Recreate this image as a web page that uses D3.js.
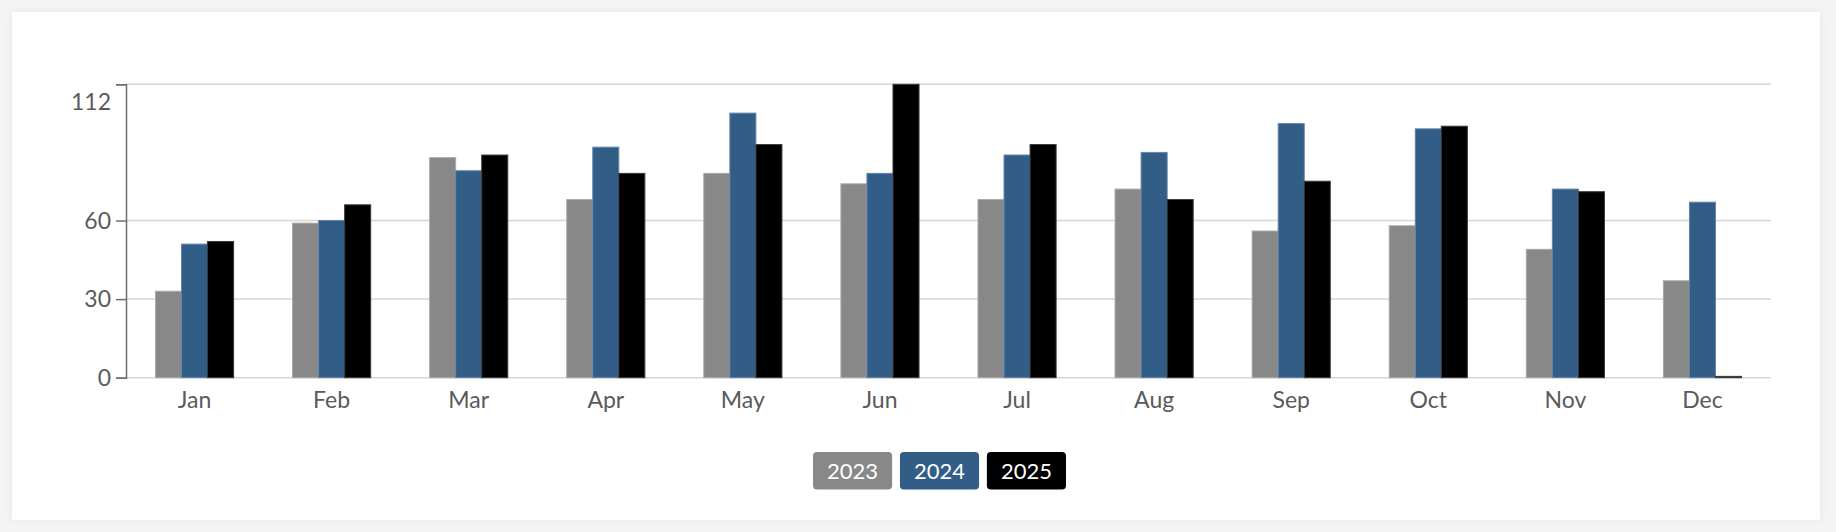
<!DOCTYPE html>
<html>
<head>
<meta charset="utf-8">
<script src="https://cdn.jsdelivr.net/npm/d3@7"></script>
<style>
  html, body { margin: 0; padding: 0; background: #f4f4f4; }
  svg { display: block; font-family: "Lato", "Open Sans", sans-serif; }
</style>
</head>
<body>
<div id="chart"></div>
<script>
// months on the x axis
var months = ["Jan", "Feb", "Mar", "Apr", "May", "Jun", "Jul", "Aug", "Sep", "Oct", "Nov", "Dec"];
var years = ["2023", "2024", "2025"];

// values per year
var values2023 = [33, 59, 84, 68, 78, 74, 68, 72, 56, 58, 49, 37];
var values2024 = [51, 60, 79, 88, 101, 78, 85, 86, 97, 95, 72, 67];
var values2025 = [52, 66, 85, 78, 89, 112, 89, 68, 75, 96, 71, 0.5];

var yTicks = [0, 30, 60, 112];
var yMax = 112;

var colors = { "2023": "#888888", "2024": "#325d87", "2025": "#000000" };
var strokes = { "2023": "#a9a9a9", "2024": "#6485a8", "2025": "#3a3a3a" };

var W = 1836, H = 532;
var margin = { top: 84.3, right: 65, bottom: 154.3, left: 126 };
var fontFam = "Lato, 'Open Sans', sans-serif";

var svg = d3.select("#chart").append("svg")
    .attr("width", W)
    .attr("height", H);

// card with soft shadow
var defs = svg.append("defs");
var f = defs.append("filter").attr("id", "shadow")
    .attr("x", "-5%").attr("y", "-5%").attr("width", "110%").attr("height", "110%");
f.append("feDropShadow").attr("dx", 0).attr("dy", 0)
    .attr("stdDeviation", 4).attr("flood-color", "#000").attr("flood-opacity", 0.06);

svg.append("rect")
    .attr("x", 12).attr("y", 12)
    .attr("width", 1808).attr("height", 508)
    .attr("fill", "#fff")
    .attr("filter", "url(#shadow)");

var x0 = d3.scaleBand()
    .domain(months)
    .range([margin.left, W - margin.right])
    .paddingInner(0.43)
    .paddingOuter(0.215);

var x1 = d3.scaleBand()
    .domain(years)
    .range([0, x0.bandwidth()]);

var y = d3.scaleLinear()
    .domain([0, yMax])
    .range([H - margin.bottom, margin.top]);

// gridlines
svg.append("g")
    .selectAll("line")
    .data(yTicks)
    .enter()
    .append("line")
    .attr("x1", margin.left)
    .attr("x2", W - margin.right)
    .attr("y1", d => y(d))
    .attr("y2", d => y(d))
    .attr("stroke", "#d6d6d6")
    .attr("stroke-width", 1.5);

// bars
var table = months.map(function (m, i) {
    return { month: m, vals: [
        { year: "2023", v: values2023[i] },
        { year: "2024", v: values2024[i] },
        { year: "2025", v: values2025[i] }
    ] };
});

svg.append("g")
    .selectAll("g")
    .data(table)
    .enter()
    .append("g")
    .attr("transform", d => "translate(" + x0(d.month) + ",0)")
    .selectAll("rect")
    .data(d => d.vals)
    .enter()
    .append("rect")
    .attr("x", d => x1(d.year))
    .attr("width", x1.bandwidth())
    .attr("y", d => y(d.v))
    .attr("height", d => y(0) - y(d.v))
    .attr("fill", d => colors[d.year])
    .attr("stroke", d => strokes[d.year])
    .attr("stroke-width", 1);

// y axis
var yAxis = svg.append("g")
    .attr("transform", "translate(" + margin.left + ",0)")
    .call(d3.axisLeft(y).tickValues(yTicks).tickSize(10).tickSizeOuter(10).tickPadding(5))
    .attr("font-family", fontFam)
    .attr("font-size", 23);
yAxis.select(".domain").attr("stroke", "#6e6e6e").attr("stroke-width", 1.5);
yAxis.selectAll(".tick line").attr("stroke", "#6e6e6e").attr("stroke-width", 1.5);
yAxis.selectAll(".tick text")
    .attr("fill", "#5a5a5a")
    .attr("dy", d => d === yMax ? "1.1em" : "0.34em");

// x axis labels
var xAxis = svg.append("g")
    .attr("transform", "translate(0," + y(0) + ")")
    .call(d3.axisBottom(x0).tickSize(0).tickPadding(14))
    .attr("font-family", fontFam)
    .attr("font-size", 23);
xAxis.select(".domain").remove();
xAxis.selectAll(".tick text")
    .attr("fill", "#5a5a5a");

// legend
var lx = d3.scaleBand()
    .domain(years)
    .range([813, 1066])
    .paddingInner(0.09)
    .paddingOuter(0);

var leg = svg.append("g")
    .selectAll("g")
    .data(years)
    .enter()
    .append("g")
    .attr("transform", d => "translate(" + lx(d) + ",452)");

leg.append("rect")
    .attr("width", lx.bandwidth())
    .attr("height", 37.5)
    .attr("rx", 4)
    .attr("fill", d => colors[d]);

leg.append("text")
    .attr("x", lx.bandwidth() / 2)
    .attr("y", 19)
    .attr("dy", "0.35em")
    .attr("text-anchor", "middle")
    .attr("fill", "#fff")
    .style("font-size", "22px")
    .text(d => d);
</script>
</body>
</html>
